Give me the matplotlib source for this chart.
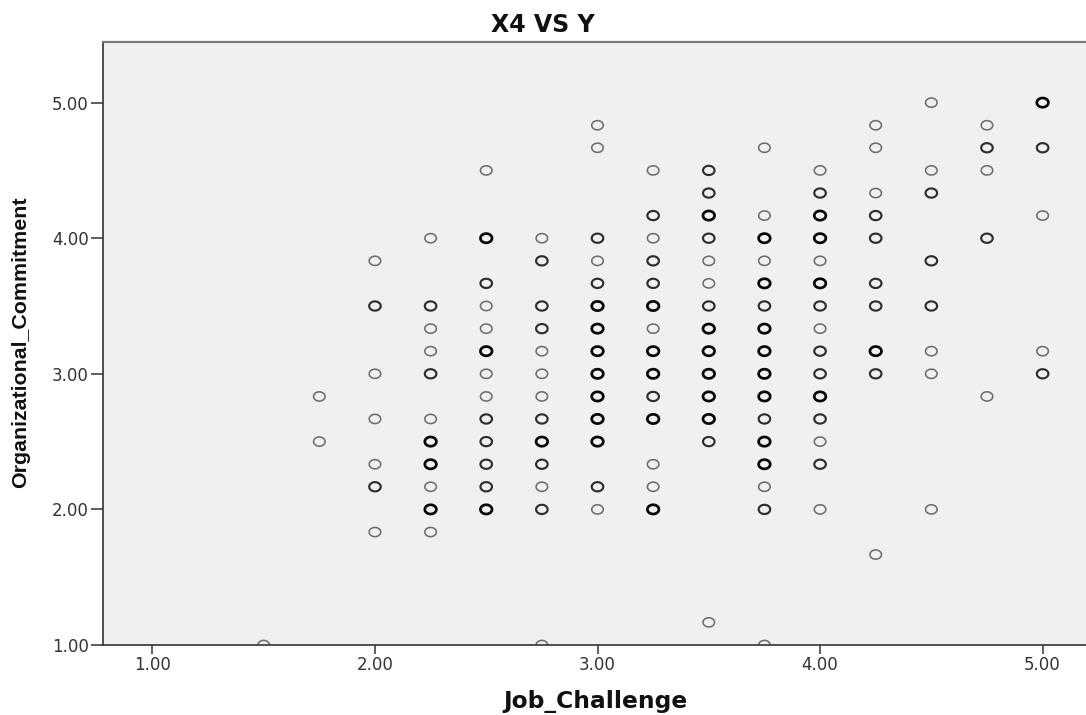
import matplotlib
matplotlib.use("Agg")
import matplotlib.pyplot as plt
import numpy as np
from matplotlib.path import Path

# ---- data ----
job_challenge = (
    [1.5]
    + [1.75] * 2
    + [2.0] * 7
    + [2.25] * 11
    + [2.5] * 13
    + [2.75] * 13
    + [3.0] * 14
    + [3.25] * 14
    + [3.5] * 14
    + [3.75] * 16
    + [4.0] * 15
    + [4.25] * 10
    + [4.5] * 8
    + [4.75] * 5
    + [5.0] * 5
)
org_commitment = [
    1.0,
    2.833, 2.5,
    3.833, 3.5, 3.0, 2.667, 2.333, 2.167, 1.833,
    4.0, 3.5, 3.333, 3.167, 3.0, 2.667, 2.5, 2.333, 2.167, 2.0, 1.833,
    4.5, 4.0, 3.667, 3.5, 3.333, 3.167, 3.0, 2.833, 2.667, 2.5, 2.333, 2.167, 2.0,
    4.0, 3.833, 3.5, 3.333, 3.167, 3.0, 2.833, 2.667, 2.5, 2.333, 2.167, 2.0, 1.0,
    4.833, 4.667, 4.0, 3.833, 3.667, 3.5, 3.333, 3.167, 3.0, 2.833, 2.667, 2.5, 2.167, 2.0,
    4.5, 4.167, 4.0, 3.833, 3.667, 3.5, 3.333, 3.167, 3.0, 2.833, 2.667, 2.333, 2.167, 2.0,
    4.5, 4.333, 4.167, 4.0, 3.833, 3.667, 3.5, 3.333, 3.167, 3.0, 2.833, 2.667, 2.5, 1.167,
    4.667, 4.167, 4.0, 3.833, 3.667, 3.5, 3.333, 3.167, 3.0, 2.833, 2.667, 2.5, 2.333, 2.167, 2.0, 1.0,
    4.5, 4.333, 4.167, 4.0, 3.833, 3.667, 3.5, 3.333, 3.167, 3.0, 2.833, 2.667, 2.5, 2.333, 2.0,
    4.833, 4.667, 4.333, 4.167, 4.0, 3.667, 3.5, 3.167, 3.0, 1.667,
    5.0, 4.5, 4.333, 3.833, 3.5, 3.167, 3.0, 2.0,
    4.833, 4.667, 4.5, 4.0, 2.833,
    5.0, 4.667, 4.167, 3.167, 3.0,
]
# approximate number of overlapping cases at each plotted position (1 = single)
overlap = [
    1,
    1, 1,
    1, 2, 1, 1, 1, 2, 1,
    1, 2, 1, 1, 2, 1, 3, 3, 1, 3, 1,
    1, 3, 2, 1, 1, 3, 1, 1, 2, 2, 2, 2, 3,
    1, 2, 2, 2, 1, 1, 1, 2, 3, 2, 1, 2, 1,
    1, 1, 2, 1, 2, 3, 3, 3, 3, 3, 3, 3, 2, 1,
    1, 2, 1, 2, 2, 3, 1, 3, 3, 2, 3, 1, 1, 3,
    2, 2, 3, 2, 1, 1, 2, 3, 3, 3, 3, 3, 2, 1,
    1, 1, 3, 1, 3, 2, 3, 3, 3, 3, 2, 3, 3, 1, 2, 1,
    1, 2, 3, 3, 1, 3, 2, 1, 2, 2, 3, 2, 1, 2, 1,
    1, 1, 1, 2, 2, 2, 2, 3, 2, 1,
    1, 1, 2, 2, 2, 1, 1, 1,
    1, 2, 1, 2, 1,
    3, 2, 1, 1, 2,
]
x_ticks = [1.0, 2.0, 3.0, 4.0, 5.0]
y_ticks = [1.0, 2.0, 3.0, 4.0, 5.0]
x_tick_labels = ["1.00", "2.00", "3.00", "4.00", "5.00"]
y_tick_labels = ["1.00", "2.00", "3.00", "4.00", "5.00"]

title = "X4 VS Y"
x_label = "Job_Challenge"
y_label = "Organizational_Commitment"

# ---- figure ----
W, H = 1086, 715
fig = plt.figure(figsize=(W / 100, H / 100), dpi=100)
fig.patch.set_facecolor("white")

ax_l, ax_r, ax_t, ax_b = 103, 1086, 42, 645
ax = fig.add_axes([ax_l / W, 1 - ax_b / H, (ax_r - ax_l) / W, (ax_b - ax_t) / H])
ax.set_facecolor("#f0f0f0")

# slightly wide elliptical ring marker (reference is horizontally stretched)
theta = np.linspace(0, 2 * np.pi, 60)
ell = Path(np.column_stack([np.cos(theta), 0.80 * np.sin(theta)]), closed=True)

x = np.array(job_challenge)
y = np.array(org_commitment)
c = np.array(overlap)
styles = {1: ("#6e6e6e", 1.15), 2: ("#2e2e2e", 1.55), 3: ("#050505", 1.95)}
for k, (col, lw) in styles.items():
    m = c == k
    ax.scatter(x[m], y[m], marker=ell, s=8.3 ** 2, facecolors="none",
               edgecolors=col, linewidths=lw, zorder=2)

ax.set_xlim(0.778, 5.195)
ax.set_ylim(1.0, 5.447)

ax.set_xticks(x_ticks)
ax.set_xticklabels(x_tick_labels)
ax.set_yticks(y_ticks)
ax.set_yticklabels(y_tick_labels)

ax.tick_params(axis="x", length=6.7, width=1.1, color="#333333", pad=1.5,
               labelsize=12, labelcolor="#333333")
ax.tick_params(axis="y", length=8.6, width=1.1, color="#333333", pad=1.8,
               labelsize=12, labelcolor="#333333")
for lab in ax.get_xticklabels() + ax.get_yticklabels():
    lab.set_family("DejaVu Sans")

ax.spines["right"].set_visible(False)
ax.spines["top"].set_color("#7a7a7a")
ax.spines["top"].set_linewidth(1.6)
for s in ("left", "bottom"):
    ax.spines[s].set_color("#333333")
    ax.spines[s].set_linewidth(1.2)
for s in ax.spines.values():
    s.set_zorder(3)

fig.text(543 / W, 1 - 31.5 / H, title, ha="center", va="baseline",
         fontsize=17, fontweight="bold", family="DejaVu Sans", color="#111111")
fig.text(595.5 / W, 1 - 708 / H, x_label, ha="center", va="baseline",
         fontsize=16.8, fontweight="bold", family="DejaVu Sans", color="#111111")
fig.text(21 / W, 1 - 342.5 / H, y_label, ha="center", va="center", rotation=90,
         fontsize=15.4, fontweight="bold", family="Liberation Sans", color="#111111")

fig.savefig("out.png", dpi=100, facecolor="white")
